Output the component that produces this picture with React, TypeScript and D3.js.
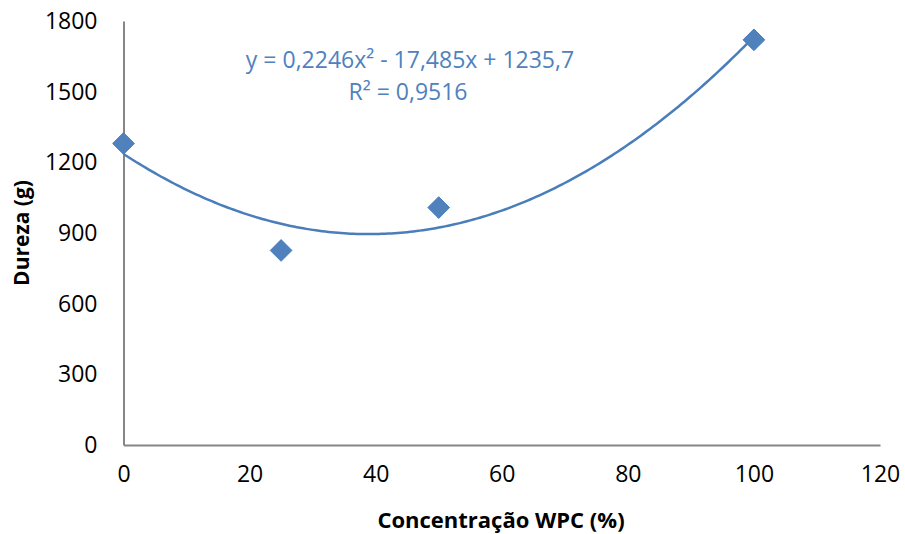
import React, { useRef, useEffect } from "react";
import * as d3 from "d3";

// measured data (WPC concentration %, hardness g)
const wpc = [0, 25, 50, 100];
const dureza = [1280, 826, 1008, 1720];
// polynomial trend line shown in the chart: c0 + c1*x + c2*x^2
const trendCoef = [1235.7, -17.485, 0.2246];
const xTicks = [0, 20, 40, 60, 80, 100, 120];
const yTicks = [0, 300, 600, 900, 1200, 1500, 1800];
const eqLabel = "y = 0,2246x² - 17,485x + 1235,7";
const r2Label = "R² = 0,9516";

const W = 905;
const H = 534;
const FONT = "'Open Sans', sans-serif";
const BLUE = "#4F81BD";

function App() {
  const svgRef = useRef<SVGSVGElement>(null);

  useEffect(() => {
    const svg = d3.select(svgRef.current);
    svg.selectAll("*").remove();

    const x = d3.scaleLinear().domain([0, 120]).range([123.5, 880]);
    const y = d3.scaleLinear().domain([0, 1800]).range([445, 21]);

    // axes
    const gx = svg
      .append("g")
      .attr("transform", `translate(0,${y(0)})`)
      .call(
        d3.axisBottom(x).tickValues(xTicks).tickSize(0).tickPadding(21)
          .tickFormat(d3.format("d"))
      );
    const gy = svg
      .append("g")
      .attr("transform", `translate(${x(0)},0)`)
      .call(
        d3.axisLeft(y).tickValues(yTicks).tickSize(0).tickPadding(26)
          .tickFormat(d3.format("d"))
      );
    [gx, gy].forEach((g) => {
      g.select(".domain").attr("stroke", "#868686").attr("stroke-width", 2);
      g.selectAll("text")
        .attr("font-family", FONT)
        .attr("font-size", 23)
        .attr("fill", "#000");
    });

    // trend line
    const tx = d3.range(0, 100.5, 0.5);
    const poly = (v: number) =>
      trendCoef[0] + trendCoef[1] * v + trendCoef[2] * v * v;
    const ln = d3
      .line<number>()
      .x((d) => x(d))
      .y((d) => y(poly(d)));
    svg
      .append("path")
      .datum(tx)
      .attr("d", ln)
      .attr("fill", "none")
      .attr("stroke", "#4A7EBB")
      .attr("stroke-width", 2.5);

    // markers
    const sym = d3.symbol().type(d3.symbolDiamond2).size(300);
    svg
      .selectAll(".pt")
      .data(wpc)
      .join("path")
      .attr("class", "pt")
      .attr("d", sym)
      .attr("transform", (d, i) => `translate(${x(d)},${y(dureza[i])})`)
      .attr("fill", BLUE)
      .attr("stroke", "#4A7EBB")
      .attr("stroke-width", 1);

    // equation
    svg
      .append("text")
      .attr("x", 410)
      .attr("y", 68)
      .attr("text-anchor", "middle")
      .attr("font-family", FONT)
      .attr("font-size", 23)
      .attr("fill", BLUE)
      .text(eqLabel);
    svg
      .append("text")
      .attr("x", 408)
      .attr("y", 100)
      .attr("text-anchor", "middle")
      .attr("font-family", FONT)
      .attr("font-size", 23)
      .attr("fill", BLUE)
      .text(r2Label);

    // axis titles
    svg
      .append("text")
      .attr("x", 501)
      .attr("y", 528)
      .attr("text-anchor", "middle")
      .attr("font-family", FONT)
      .attr("font-weight", "bold")
      .attr("font-size", 22)
      .text("Concentração WPC (%)");
    svg
      .append("text")
      .attr("transform", "translate(29,233) rotate(-90)")
      .attr("text-anchor", "middle")
      .attr("font-family", FONT)
      .attr("font-weight", "bold")
      .attr("font-size", 21)
      .text("Dureza (g)");
  }, []);

  return (
    <svg
      ref={svgRef}
      width={W}
      height={H}
      style={{ position: "absolute", left: 0, top: 0, background: "#fff" }}
    />
  );
}

export default App;
